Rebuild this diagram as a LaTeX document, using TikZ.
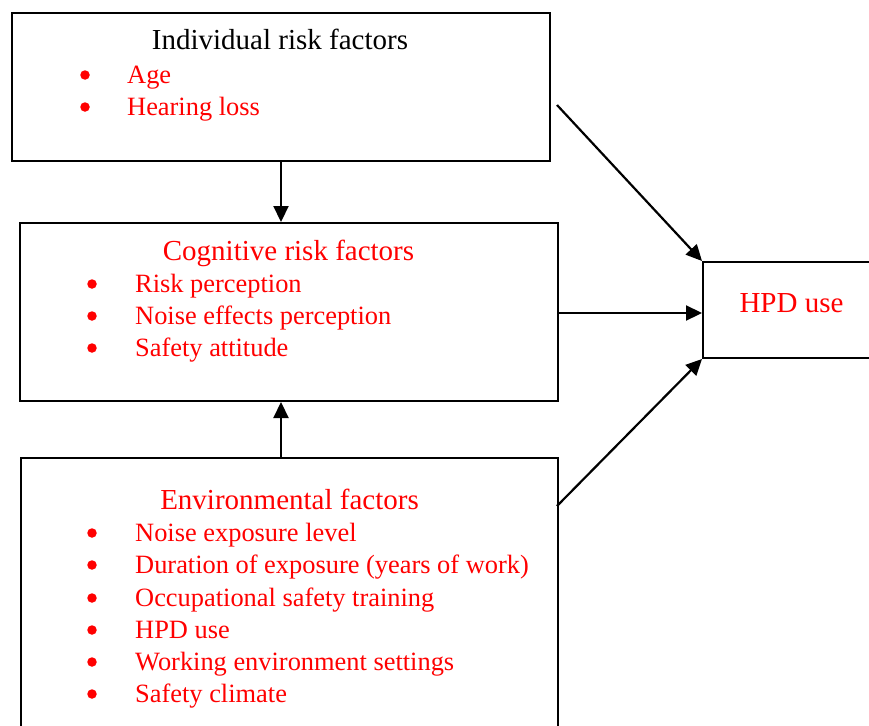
\documentclass[tikz,border=0pt]{standalone}
\usepackage{fontspec}
\setmainfont{Liberation Serif}
\usetikzlibrary{arrows.meta}
\begin{document}
\begin{tikzpicture}[x=1pt,y=-1pt,
  box/.style={draw, line width=2pt, anchor=north west, inner sep=0pt},
  ttl/.style={anchor=base, font=\fontsize{29}{34}\selectfont, inner sep=0pt},
  itm/.style={anchor=base west, font=\fontsize{26.4}{32}\selectfont, text=red, inner sep=0pt},
  bul/.style={anchor=center, circle, fill=red, minimum size=9.5pt, inner sep=0pt},
  arr/.style={line width=2.2pt, -{Triangle[length=16pt,width=15pt]}}]
\useasboundingbox (0,0) rectangle (869,725);
\clip (0,0) rectangle (869,725);

% boxes
\node[box, minimum width=538pt, minimum height=148pt] (b1) at (11,12) {};
\node[box, minimum width=538pt, minimum height=178pt] (b2) at (19,222) {};
\node[box, minimum width=537pt, minimum height=330pt] (b3) at (20,457) {};
\node[box, minimum width=260pt, minimum height=96pt] (b4) at (702,261) {};

% box 1 text
\node[ttl] (t1) at (280,50) {Individual risk factors};
\node[bul] (d11) at (85,75) {};
\node[itm] (i11) at (127,83) {Age};
\node[bul] (d12) at (85,107) {};
\node[itm] (i12) at (127,115) {Hearing loss};

% box 2 text
\node[ttl, text=red] (t2) at (288.5,260) {Cognitive risk factors};
\node[bul] (d21) at (92,284) {};
\node[itm] (i21) at (135,292) {Risk perception};
\node[bul] (d22) at (92,316) {};
\node[itm] (i22) at (135,324) {Noise effects perception};
\node[bul] (d23) at (92,348) {};
\node[itm] (i23) at (135,356) {Safety attitude};

% box 3 text
\node[ttl, text=red] (t3) at (289.5,509) {Environmental factors};
\node[bul] (d31) at (92,533) {};
\node[itm] (i31) at (135,541) {Noise exposure level};
\node[bul] (d32) at (92,565) {};
\node[itm] (i32) at (135,573) {Duration of exposure (years of work)};
\node[bul] (d33) at (92,598) {};
\node[itm] (i33) at (135,606) {Occupational safety training};
\node[bul] (d34) at (92,630) {};
\node[itm] (i34) at (135,638) {HPD use};
\node[bul] (d35) at (92,662) {};
\node[itm] (i35) at (135,670) {Working environment settings};
\node[bul] (d36) at (92,694) {};
\node[itm] (i36) at (135,702) {Safety climate};

% box 4 text
\node[ttl, text=red] (t4) at (791.5,312) {HPD use};

% connectors
\coordinate (a1) at (281,160);
\coordinate (a3) at (281,457);
\coordinate (c1) at (557,105);
\coordinate (c3) at (557,506);
\draw[arr] (a1) -- (a1 |- b2.north);
\draw[arr] (a3) -- (a3 |- b2.south);
\draw[arr] (c1) -- (b4.north west);
\draw[arr] (b2.east |- 0,313) -- (b4.west |- 0,313);
\draw[arr] (c3) -- (b4.south west);
\end{tikzpicture}
\end{document}
